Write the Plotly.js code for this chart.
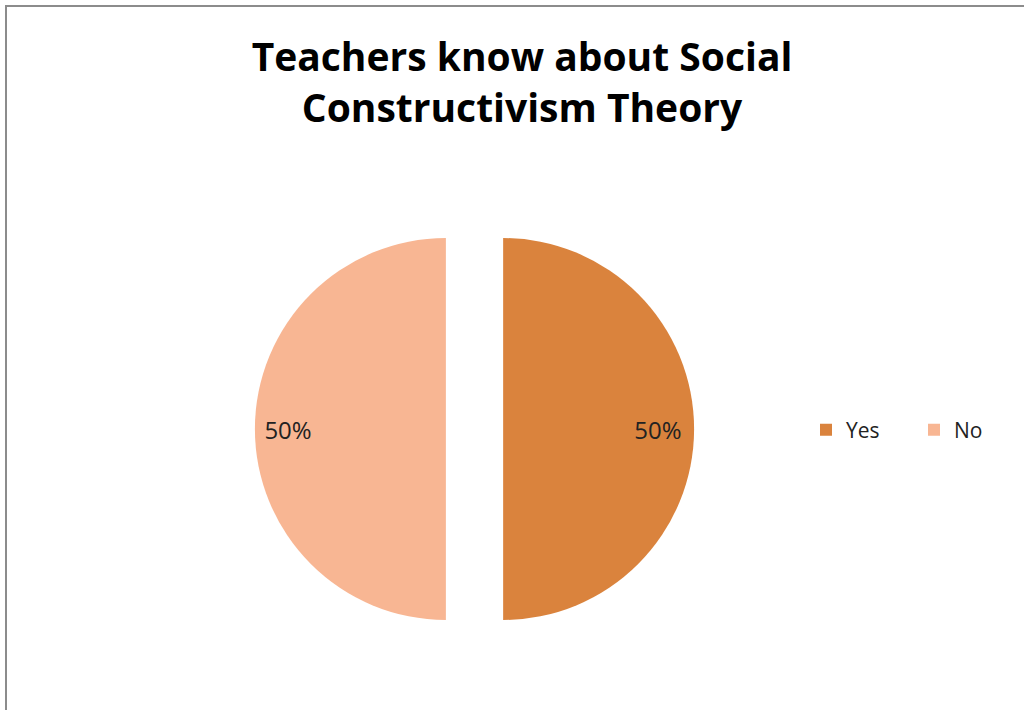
<!DOCTYPE html>
<html>
<head>
<meta charset="utf-8">
<script src="https://cdn.plot.ly/plotly-3.0.1.min.js"></script>
<style>
  html, body { margin: 0; padding: 0; background: #fff; overflow: hidden; }
  #chart { width: 1024px; height: 710px; }
  #frame { position: absolute; left: 5px; top: 5px; width: 1030px; height: 720px;
           border-left: 2px solid #8c8c8c; border-top: 2px solid #8c8c8c; pointer-events: none; }
</style>
</head>
<body>
<div id="chart"></div>
<div id="frame"></div>
<script>
const chartTitle = "Teachers know about Social<br>Constructivism Theory";
const categories = ["Yes", "No"];
const values = [50, 50];
const sliceColors = ["#DA833D", "#F8B693"];

const W = 1024, H = 710;
const cx = 474.5, cy = 429, halfBox = 219.6;

// push the percentage labels toward the outer edge of each half (as in the reference)
const labelTemplates = ["\u00a0".repeat(19) + "%{percent}", "%{percent}" + "\u00a0".repeat(20)];

const data = [{
  type: "pie",
  labels: categories,
  values: values,
  sort: false,
  direction: "clockwise",
  rotation: 0,
  pull: 0.15,
  marker: { colors: sliceColors, line: { width: 0 } },
  texttemplate: labelTemplates,
  textposition: "inside",
  insidetextorientation: "horizontal",
  insidetextfont: { family: "Open Sans", size: 24, color: "#222" },
  hoverinfo: "label+percent",
  domain: {
    x: [(cx - halfBox) / W, (cx + halfBox) / W],
    y: [1 - (cy + halfBox) / H, 1 - (cy - halfBox) / H]
  }
}];

const layout = {
  width: W, height: H,
  margin: { l: 0, r: 0, t: 0, b: 0 },
  paper_bgcolor: "#fff",
  font: { family: "Open Sans", color: "#222" },
  title: {
    text: chartTitle,
    font: { family: "Open Sans", size: 39, weight: "bold", color: "#000" },
    x: 522 / W, xanchor: "center", xref: "container",
    y: 1 - 71 / H, yanchor: "top", yref: "container"
  },
  showlegend: true,
  legend: {
    orientation: "h",
    x: 806 / W, xanchor: "left",
    y: 1 - 430 / H, yanchor: "middle",
    font: { family: "Open Sans", size: 21, color: "#222" },
    entrywidth: 63, entrywidthmode: "pixels",
    traceorder: "normal"
  }
};

Plotly.newPlot("chart", data, layout, { displayModeBar: false, staticPlot: true });
</script>
</body>
</html>
